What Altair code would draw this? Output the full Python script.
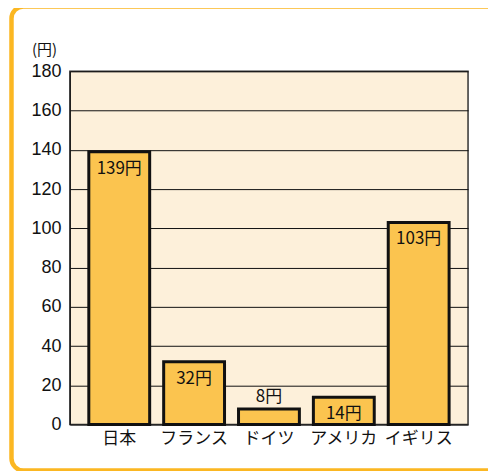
import altair as alt
import pandas as pd

countries = ["日本", "フランス", "ドイツ", "アメリカ", "イギリス"]
values = [139, 32, 8, 14, 103]
labels = ["139円", "32円", "8円", "14円", "103円"]
inside = [True, True, False, True, True]
ticks = [0, 20, 40, 60, 80, 100, 120, 140, 160, 180]

df = pd.DataFrame({"country": countries, "value": values, "label": labels, "inside": inside})

W, H = 399, 354
FONT = "Noto Sans CJK JP"

x = alt.X("country:N", sort=countries,
          scale=alt.Scale(paddingInner=0.187, paddingOuter=0.253),
          axis=alt.Axis(title=None, labelAngle=0, labelFontSize=17, labelFont=FONT,
                        labelColor="#111", ticks=False, domain=False, labelPadding=6))
y = alt.Y("value:Q", scale=alt.Scale(domain=[0, 180], nice=False),
          axis=alt.Axis(values=ticks, title="(円)", titleAngle=0,
                        titleAlign="center", titleBaseline="bottom", titleX=-26, titleY=-14,
                        titleFontSize=15, titleFont=FONT, titleFontWeight="normal", titleColor="#111",
                        labelFontSize=18, labelFont="Liberation Sans", labelColor="#111",
                        labelOverlap=False,
                        ticks=False, labelPadding=9, domainColor="#111", domainWidth=1,
                        grid=True, gridColor="#111", gridWidth=1, gridOpacity=1))

frame = alt.Chart(pd.DataFrame({"a": [0]})).mark_rect(
    fill=None, stroke="#FBB722", strokeWidth=4.5, cornerRadius=12, clip=False
).encode(x=alt.value(-58.5), x2=alt.value(1000), y=alt.value(-65), y2=alt.value(400))

bars = alt.Chart(df).mark_bar(fill="#FBC44F", stroke="#111", strokeWidth=3).encode(x=x, y=y)

txt_in = alt.Chart(df).transform_filter("datum.inside").mark_text(
    baseline="top", dy=9, fontSize=17, font=FONT, color="#111"
).encode(x=x, y=y, text="label:N")

txt_out = alt.Chart(df).transform_filter("!datum.inside").mark_text(
    baseline="bottom", dy=-3, fontSize=17, font=FONT, color="#111"
).encode(x=x, y=y, text="label:N")

chart = alt.layer(frame, bars, txt_in, txt_out).properties(
    width=W, height=H,
    autosize=alt.AutoSizeParams(type="none"),
    padding={"left": 62, "top": 63, "right": 20, "bottom": 46},
    background="white",
).configure_view(fill="#FDF0DA", stroke="#333", strokeWidth=1.5)

chart.save("out.html", embed_options={"renderer": "svg", "actions": False})
